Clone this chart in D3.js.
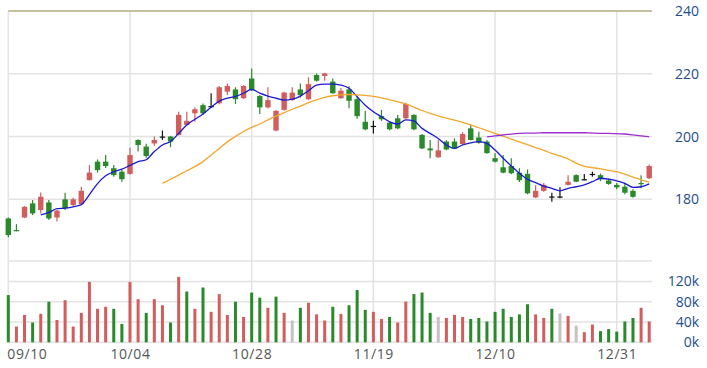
<!DOCTYPE html>
<html>
<head>
<meta charset="utf-8">
<script src="https://cdn.jsdelivr.net/npm/d3@7"></script>
<style>
  body { margin: 0; background: #fff; }
  svg { display: block; font-family: "Open Sans", sans-serif; }
  .grid line { stroke: #e3e3e3; stroke-width: 1.5; }
  .yaxis text { fill: #1e4d8c; font-size: 14px; }
  .xaxis text { fill: #555; font-size: 14px; letter-spacing: 0.6px; }
</style>
</head>
<body>
<script>
'use strict';

// daily OHLC
const opens = [173.9,170.2,174.2,178.7,176.6,179.0,174.2,180.0,178.2,178.5,
  186.1,192.0,192.0,189.9,188.8,188.1,198.9,196.8,197.8,200.0,
  200.0,200.5,203.7,207.4,210.0,209.7,210.6,214.3,215.0,212.2,
  218.5,212.9,209.3,201.9,208.5,211.6,215.0,211.9,219.6,219.3,
  217.5,212.2,215.0,211.9,204.7,203.4,206.5,204.4,205.8,205.8,
  206.9,200.5,196.2,193.4,198.4,198.4,197.6,202.6,199.7,198.4,
  193.1,190.2,190.6,188.5,188.1,180.6,182.7,180.9,180.9,184.6,
  187.7,186.4,188.1,187.7,186.0,184.6,184.0,182.7,185.2,186.7];
const highs = [174.2,172.1,177.8,179.8,182.2,179.8,176.6,182.1,180.5,184.0,
  190.9,192.7,194.1,190.9,189.3,196.4,199.1,197.7,200.0,201.9,
  200.2,207.9,207.9,209.3,210.5,213.8,216.1,216.9,215.7,216.4,
  221.7,213.2,215.7,208.4,214.3,215.7,216.9,218.9,220.1,220.3,
  218.5,215.5,216.0,212.7,208.2,205.0,208.5,204.8,206.9,210.8,
  207.1,200.8,198.9,198.9,198.8,199.4,201.4,203.7,201.5,198.9,
  194.7,194.1,193.1,189.9,189.5,184.5,185.2,182.1,183.8,187.7,
  188.0,188.1,188.8,188.2,186.6,185.2,185.3,183.2,187.7,191.1];
const lows = [167.9,169.8,174.0,175.0,175.5,173.4,172.9,176.6,177.9,178.2,
  186.0,188.5,190.0,187.2,185.6,187.8,195.2,193.2,197.1,198.9,
  196.6,200.3,203.5,204.7,206.9,209.3,210.3,213.2,210.4,212.0,
  214.5,207.2,208.9,201.7,208.3,211.4,212.4,211.6,217.5,217.8,
  213.6,212.0,209.0,205.7,202.0,201.0,205.0,202.0,202.3,205.6,
  202.0,196.0,193.1,193.2,195.6,196.0,197.3,198.7,197.7,194.5,
  191.7,188.3,188.0,185.5,181.6,180.4,182.4,179.2,180.3,184.4,
  185.4,186.1,187.2,185.8,184.6,183.2,181.6,180.5,183.5,186.5];
const closes = [168.6,169.9,177.6,175.5,180.8,173.9,176.4,177.1,180.0,182.7,
  188.5,189.3,190.6,187.7,186.4,194.1,197.3,193.8,198.9,200.0,
  198.4,206.9,205.0,208.7,207.4,209.7,215.7,216.1,211.9,216.1,
  214.8,209.3,211.6,208.2,214.0,214.0,213.2,216.7,217.8,220.1,
  213.8,214.6,211.4,206.5,202.3,203.4,205.5,202.3,202.6,210.4,
  202.3,196.2,195.6,195.6,195.9,196.2,200.8,198.9,198.0,194.7,
  192.0,188.5,188.3,186.1,181.9,182.7,184.6,180.9,180.9,185.6,
  185.6,186.4,188.1,186.4,184.9,183.8,182.1,180.8,184.8,190.6];
const volumes = [93,31,54,39,56,80,44,83,31,58,
  119,66,70,66,36,119,85,58,85,73,
  39,129,100,66,108,60,95,54,80,50,
  98,88,68,90,58,43,68,78,55,43,
  70,56,73,103,64,60,46,50,39,80,
  95,98,58,50,48,54,50,46,48,41,
  60,66,50,55,75,55,48,66,57,52,
  33,20,35,22,26,21,41,48,68,41].map(v => v * 1000);

// moving average lines as drawn, each starting at its own day
const ma5Start = 4;
const ma5 = [175.0,175.8,177.0,177.2,177.6,178.3,181.5,185.0,187.5,188.8,
  189.6,190.8,192.0,192.6,195.2,197.3,198.4,201.0,203.7,205.5,
  207.2,209.3,211.3,212.2,212.8,213.8,215.0,213.8,212.9,212.2,
  211.6,211.9,212.9,214.6,216.4,216.7,216.7,216.4,215.4,212.7,
  210.0,207.9,206.3,204.7,204.0,205.3,205.0,202.6,201.0,199.4,
  197.3,196.2,197.3,198.0,198.4,197.8,195.7,193.1,190.6,188.3,
  186.4,185.3,184.2,183.5,182.7,183.5,184.0,184.6,185.6,186.7,
  186.4,185.9,185.1,183.8,184.0,184.9];
const ma20Start = 19;
const ma20 = [185.1,186.4,187.7,189.1,190.4,192.0,194.1,196.2,198.3,200.0,
  201.6,202.9,204.0,205.3,206.5,207.6,208.7,209.7,210.8,211.7,
  212.5,213.0,213.3,213.4,213.3,213.1,212.8,212.3,211.7,211.1,
  210.4,209.4,208.3,207.4,206.6,205.9,205.2,204.5,203.7,202.8,
  201.9,201.0,200.1,199.2,198.3,197.4,196.5,195.6,194.6,193.8,
  192.9,191.5,190.5,190.1,189.7,189.2,188.8,188.0,187.1,186.2,185.5];
const ma60Start = 59;
const ma60 = [199.9,200.2,200.5,200.8,201.0,201.1,201.1,201.2,201.2,201.2,
  201.2,201.2,201.2,201.1,201.0,201.0,200.9,200.8,200.5,200.2,199.9];

const days = d3.range(closes.length);
const tickDays = [0, 15, 30, 45, 60, 75];
const tickLabels = ['09/10', '10/04', '10/28', '11/19', '12/10', '12/31'];
const priceTicks = [180, 200, 220, 240];
const volumeTicks = [0, 40000, 80000, 120000];

const width = 707,
      height = 368,
      upColor = '#d25d5d',
      downColor = '#2a892a',
      flatColor = '#c3c3c3';

const svg = d3.select('body').append('svg')
  .attr('width', width)
  .attr('height', height);

const x = d3.scalePoint(days, [8.3, 649.2]);
const y = d3.scaleLinear([180, 240], [199.3, 11]);
const yv = d3.scaleLinear([0, 160000], [342.3, 261.1]);

// grid
const grid = svg.append('g').classed('grid', true);
grid.selectAll('.vg')
  .data(tickDays)
  .join('line')
  .attr('x1', d => x(d)).attr('x2', d => x(d))
  .attr('y1', y(240)).attr('y2', yv(0));
grid.selectAll('.hg')
  .data(priceTicks.slice(0, 3))
  .join('line')
  .attr('x1', x(0)).attr('x2', 652)
  .attr('y1', d => y(d)).attr('y2', d => y(d));
grid.selectAll('.vgv')
  .data([0, 40000, 80000, 120000, 160000])
  .join('line')
  .attr('x1', x(0)).attr('x2', 652)
  .attr('y1', d => yv(d)).attr('y2', d => yv(d));
svg.append('line')
  .attr('x1', x(0)).attr('x2', 652)
  .attr('y1', y(240)).attr('y2', y(240))
  .attr('stroke', '#b3ab84')
  .attr('stroke-width', 1.5);

// volume bars, coloured by change from the previous close
function volColor(i) {
  if (i === 0) return downColor;
  if (closes[i] > closes[i - 1]) return upColor;
  if (closes[i] < closes[i - 1]) return downColor;
  return flatColor;
}
svg.append('g')
  .selectAll('rect')
  .data(days)
  .join('rect')
  .attr('x', i => x(i) - 1.5)
  .attr('width', 3)
  .attr('y', i => yv(volumes[i]))
  .attr('height', i => yv(0) - yv(volumes[i]))
  .attr('fill', volColor);

// candles
function candleColor(i) {
  if (closes[i] > opens[i]) return upColor;
  if (closes[i] < opens[i]) return downColor;
  return '#111';
}
const candle = svg.append('g')
  .selectAll('g')
  .data(days)
  .join('g');
candle.append('line')
  .attr('x1', i => x(i)).attr('x2', i => x(i))
  .attr('y1', i => y(highs[i])).attr('y2', i => y(lows[i]))
  .attr('stroke', candleColor)
  .attr('stroke-width', 1.2);
candle.append('rect')
  .attr('x', i => x(i) - 2.7)
  .attr('width', 5.4)
  .attr('y', i => y(Math.max(opens[i], closes[i])))
  .attr('height', i => Math.max(1.2, Math.abs(y(opens[i]) - y(closes[i]))))
  .attr('fill', candleColor);

// moving averages
const line = d3.line()
  .x(d => x(d[0]))
  .y(d => y(d[1]))
  .curve(d3.curveMonotoneX);
[[ma5, ma5Start, '#1a1ad0'], [ma20, ma20Start, '#f4a62a'], [ma60, ma60Start, '#a02ccc']]
  .forEach(([vals, start, color]) => {
    svg.append('path')
      .datum(vals.map((v, k) => [start + k, v]))
      .attr('d', line)
      .attr('fill', 'none')
      .attr('stroke', color)
      .attr('stroke-width', 1.3);
  });

// axes
const yAxis = svg.append('g')
  .classed('yaxis', true)
  .attr('transform', 'translate(699,0)')
  .call(d3.axisLeft(y).tickValues(priceTicks).tickSize(0).tickPadding(0));
const vAxis = svg.append('g')
  .classed('yaxis', true)
  .attr('transform', 'translate(699,0)')
  .call(d3.axisLeft(yv).tickValues(volumeTicks).tickSize(0).tickPadding(0)
    .tickFormat(d => d / 1000 + 'k'));
const xAxis = svg.append('g')
  .classed('xaxis', true)
  .attr('transform', `translate(0,${yv(0)})`)
  .call(d3.axisBottom(x).tickValues(tickDays).tickSize(0).tickPadding(7)
    .tickFormat(d => tickLabels[tickDays.indexOf(d)]));
[yAxis, vAxis, xAxis].forEach(a => {
  a.select('.domain').remove();
  a.attr('font-family', null).attr('font-size', null);
});
// first date label sits inside the plot instead of centred on the edge
xAxis.select('.tick text').attr('text-anchor', 'start').attr('x', -1.5);
</script>
</body>
</html>
